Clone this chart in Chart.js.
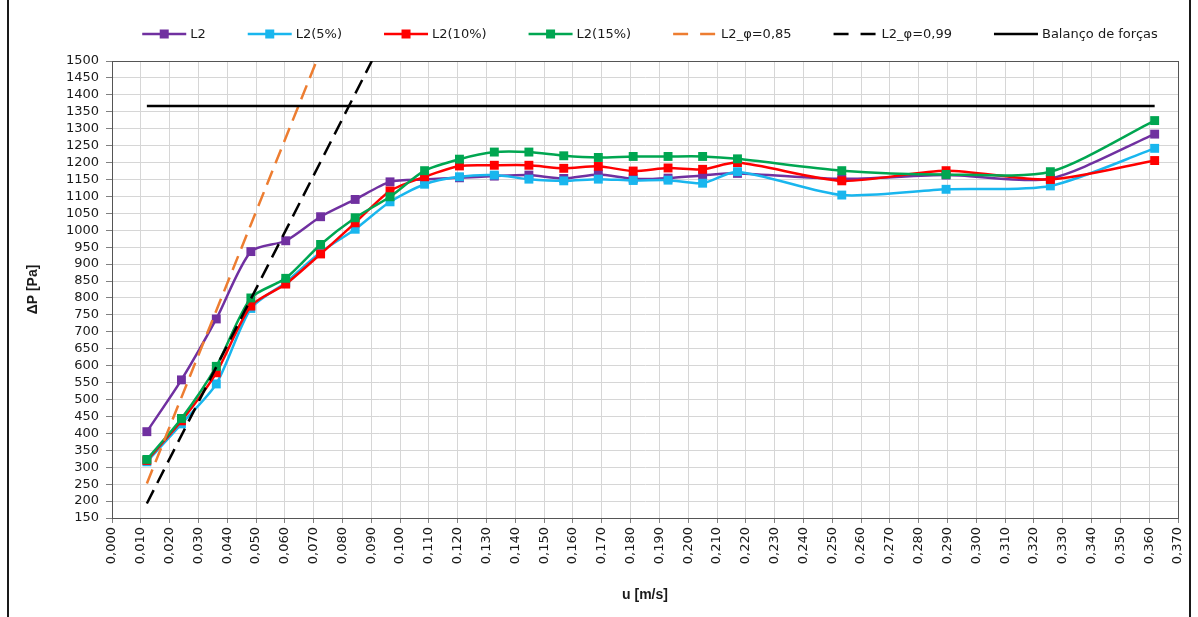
<!DOCTYPE html>
<html>
<head>
<meta charset="utf-8">
<script src="https://cdn.jsdelivr.net/npm/chart.js@4.4.1/dist/chart.umd.min.js"></script>
<style>
  html, body { margin: 0; padding: 0; background: #ffffff; }
  #wrap { position: relative; width: 1198px; height: 617px; overflow: hidden; }
  #c { position: absolute; left: 0; top: 0; }
  .frame { position: absolute; top: 0; width: 2px; height: 617px; background: #1a1a1a; }
</style>
</head>
<body>
<div id="wrap">
  <canvas id="c" width="1198" height="617"></canvas>
  <div class="frame" style="left:7px"></div>
  <div class="frame" style="left:1189px"></div>
</div>
<script>
// ---- data ----
const uValues = [0.0121, 0.0241, 0.0362, 0.0482, 0.0603, 0.0724, 0.0844, 0.0965, 0.1085, 0.1206, 0.1327,
                 0.1447, 0.1568, 0.1688, 0.1809, 0.1930, 0.2050, 0.2171, 0.2533, 0.2895, 0.3257, 0.3619];
const L2     = [405, 558, 738, 937, 969, 1040, 1091, 1143, 1150, 1155, 1160, 1163, 1153, 1165, 1152, 1154, 1162, 1168, 1152, 1163, 1153, 1284];
const L2_5   = [316, 428, 546, 769, 846, 935, 1003, 1084, 1136, 1158, 1163, 1151, 1146, 1151, 1147, 1148, 1139, 1173, 1104, 1121, 1131, 1242];
const L2_10  = [320, 437, 579, 776, 841, 930, 1022, 1116, 1158, 1190, 1192, 1192, 1183, 1189, 1175, 1184, 1180, 1200, 1146, 1176, 1150, 1206];
const L2_15  = [323, 444, 598, 800, 858, 958, 1037, 1099, 1176, 1210, 1231, 1231, 1220, 1215, 1218, 1218, 1218, 1211, 1176, 1165, 1173, 1324];
const phi85U = [0.0121, 0.0710];
const phi85P = [252, 1500];
const phi99U = [0.0121, 0.0902];
const phi99P = [193, 1500];
const balU   = [0.0121, 0.3619];
const balP   = [1367, 1367];
const seriesNames = ['L2', 'L2(5%)', 'L2(10%)', 'L2(15%)', 'L2_\u03c6=0,85', 'L2_\u03c6=0,99', 'Balan\u00e7o de for\u00e7as'];
const xMin = 0, xMax = 0.37, xStep = 0.01;
const yMin = 150, yMax = 1500, yStep = 50;
const xTitle = 'u [m/s]';
const yTitle = '\u0394P [Pa]';

// ---- helpers ----
const pts = (xs, ys) => xs.map((x, i) => ({ x: x, y: ys[i] }));
const FONT = '"DejaVu Sans", "Liberation Sans", Arial, sans-serif';
const TEXT = '#1a1a1a';

function markerSeries(label, xs, ys, color, order) {
  return {
    label, data: pts(xs, ys), borderColor: color, backgroundColor: color,
    pointBackgroundColor: color, pointBorderColor: color, borderWidth: 2.5,
    pointStyle: 'rect', pointRadius: 6.3, pointHoverRadius: 6.3, pointBorderWidth: 0,
    tension: 0.25, order, fill: false
  };
}
function plainSeries(label, xs, ys, color, dash, order) {
  return {
    label, data: pts(xs, ys), borderColor: color, backgroundColor: color,
    borderWidth: 2.5, borderDash: dash, pointRadius: 0, pointHoverRadius: 0,
    tension: 0, order, fill: false
  };
}

const datasets = [
  markerSeries(seriesNames[0], uValues, L2,    '#7030A0', 6),
  markerSeries(seriesNames[1], uValues, L2_5,  '#19B6EE', 5),
  markerSeries(seriesNames[2], uValues, L2_10, '#FF0000', 4),
  markerSeries(seriesNames[3], uValues, L2_15, '#00A651', 3),
  plainSeries(seriesNames[4], phi85U, phi85P, '#ED7D31', [15, 8], 2),
  plainSeries(seriesNames[5], phi99U, phi99P, '#000000', [15, 8], 1),
  plainSeries(seriesNames[6], balU, balP, '#000000', [], 0)
];

// legend drawn like the reference (line + square marker)
const refLegend = {
  id: 'refLegend',
  afterDraw(chart) {
    const ctx = chart.ctx;
    ctx.save();
    ctx.font = '13px ' + FONT;
    const items = chart.data.datasets.map(ds => ({ ds, w: ctx.measureText(ds.label).width }));
    const iconW = 44, iconGap = 4, itemGap = 42;
    const total = items.reduce((s, it) => s + iconW + iconGap + it.w, 0) + itemGap * (items.length - 1);
    let x = 650 - total / 2;
    const y = 34;
    items.forEach(({ ds, w }) => {
      ctx.strokeStyle = ds.borderColor;
      ctx.lineWidth = 2.5;
      ctx.setLineDash(ds.borderDash && ds.borderDash.length ? [15, 12] : []);
      ctx.beginPath(); ctx.moveTo(x, y); ctx.lineTo(x + iconW, y); ctx.stroke();
      ctx.setLineDash([]);
      if (ds.pointRadius > 0) {
        ctx.fillStyle = ds.pointBackgroundColor;
        ctx.fillRect(x + iconW / 2 - 4.5, y - 4.5, 9, 9);
      }
      ctx.fillStyle = TEXT;
      ctx.textBaseline = 'middle';
      ctx.textAlign = 'left';
      ctx.fillText(ds.label, x + iconW + iconGap, y + 1);
      x += iconW + iconGap + w + itemGap;
    });
    ctx.restore();
  }
};

// plot-area frame
const plotFrame = {
  id: 'plotFrame',
  beforeDatasetsDraw(chart) {
    const { ctx, chartArea: a } = chart;
    ctx.save();
    ctx.strokeStyle = '#555555';
    ctx.lineWidth = 1;
    ctx.strokeRect(Math.round(a.left) + 0.5, Math.round(a.top) + 0.5, Math.round(a.right - a.left), Math.round(a.bottom - a.top));
    ctx.restore();
  }
};

new Chart(document.getElementById('c'), {
  type: 'line',
  data: { datasets },
  options: {
    responsive: false,
    animation: false,
    devicePixelRatio: 1,
    layout: { padding: { top: 61, left: 0, right: 20, bottom: 5 } },
    plugins: { legend: { display: false }, tooltip: { enabled: false } },
    scales: {
      x: {
        type: 'linear', min: xMin, max: xMax,
        afterFit(s) { s.height = 94; s.paddingLeft = 0; s.paddingRight = 0; },
        ticks: {
          stepSize: xStep, autoSkip: false, minRotation: 90, maxRotation: 90, padding: 4,
          color: TEXT, font: { family: FONT, size: 13 },
          callback: v => Number(v).toFixed(3).replace('.', ',')
        },
        grid: { color: '#d6d6d6', lineWidth: 1, tickLength: 5, tickColor: '#808080' },
        border: { display: true, color: '#555555' },
        title: { display: true, text: xTitle, color: TEXT, font: { family: 'Liberation Sans, Arial', size: 14, weight: 'bold' }, padding: { top: 0, bottom: 8 } }
      },
      y: {
        type: 'linear', min: yMin, max: yMax,
        afterFit(s) { s.width = 112; s.paddingTop = 0; s.paddingBottom = 0; },
        ticks: {
          stepSize: yStep, autoSkip: false, padding: 7,
          color: TEXT, font: { family: FONT, size: 13 },
          callback: v => String(Math.round(v))
        },
        grid: { color: '#d6d6d6', lineWidth: 1, tickLength: 6, tickColor: '#808080' },
        border: { display: true, color: '#555555' },
        title: { display: true, text: yTitle, color: TEXT, font: { family: 'Liberation Sans, Arial', size: 14, weight: 'bold' }, padding: { top: 25, bottom: 0 } }
      }
    }
  },
  plugins: [plotFrame, refLegend]
});
</script>
</body>
</html>
